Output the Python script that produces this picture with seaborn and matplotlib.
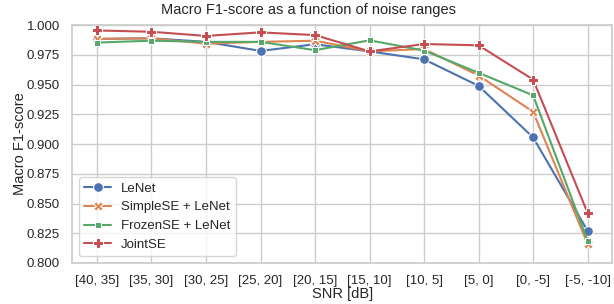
import numpy as np
import pandas as pd
import matplotlib
matplotlib.use("Agg")
import matplotlib.pyplot as plt
import seaborn as sns

snr_ranges = ["[40, 35]", "[35, 30]", "[30, 25]", "[25, 20]", "[20, 15]",
              "[15, 10]", "[10, 5]", "[5, 0]", "[0, -5]", "[-5, -10]"]
lenet = [0.9885, 0.989, 0.986, 0.9784, 0.984, 0.978, 0.9713, 0.949, 0.9056, 0.827]
simplese = [0.9885, 0.989, 0.9845, 0.986, 0.987, 0.978, 0.980, 0.9577, 0.9272, 0.816]
frozense = [0.9854, 0.987, 0.986, 0.986, 0.979, 0.9873, 0.9787, 0.960, 0.941, 0.8187]
jointse = [0.9956, 0.9945, 0.991, 0.994, 0.9917, 0.978, 0.9842, 0.9831, 0.9543, 0.842]
models = ["LeNet", "SimpleSE + LeNet", "FrozenSE + LeNet", "JointSE"]

rows = []
for name, vals in zip(models, [lenet, simplese, frozense, jointse]):
    for r, v in zip(snr_ranges, vals):
        rows.append({"SNR [dB]": r, "Macro F1-score": v, "Model": name})
df = pd.DataFrame(rows)

sns.set_theme(style="whitegrid")
plt.rcParams["font.family"] = ["Liberation Sans", "DejaVu Sans"]
fig, ax = plt.subplots(figsize=(6.14, 3.04), dpi=100)
sns.lineplot(data=df, x="SNR [dB]", y="Macro F1-score", hue="Model", style="Model",
             markers=True, dashes=False, sort=False, ax=ax, markersize=7)
ax.set_ylim(0.8, 1.0)
fig.suptitle("Macro F1-score as a function of noise ranges", fontsize=10.5,
             x=0.503, y=0.99, va="top")
ax.set_xlabel("SNR [dB]", fontsize=10.5, labelpad=0)
ax.set_ylabel("Macro F1-score", fontsize=10.5, labelpad=0)
ax.tick_params(labelsize=9.5, pad=3)
ax.legend(loc="lower left", fontsize=9.5)
fig.subplots_adjust(left=0.118, right=0.997, top=0.917, bottom=0.135)
fig.savefig("out.png", dpi=100)
